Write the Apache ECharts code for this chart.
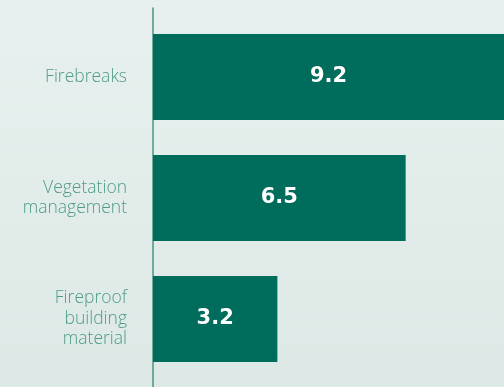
<!DOCTYPE html>
<html>
<head>
<meta charset="utf-8">
<script src="https://cdn.jsdelivr.net/npm/echarts@6/dist/echarts.min.js"></script>
<style>
  html, body { margin: 0; padding: 0; }
  #chart { width: 504px; height: 387px; }
</style>
</head>
<body>
<div id="chart"></div>
<script>
// Fire-prevention measures and their scores
const categories = ['Firebreaks', 'Vegetation\nmanagement', 'Fireproof\nbuilding\nmaterial'];
const values = [9.2, 6.5, 3.2];

const barColor = '#006c5b';
const labelColor = '#4f9b8a';

const chart = echarts.init(document.getElementById('chart'), null, { renderer: 'canvas' });

chart.setOption({
  animation: false,
  backgroundColor: {
    type: 'linear', x: 0, y: 0, x2: 0, y2: 1,
    colorStops: [
      { offset: 0, color: '#e7f0ee' },
      { offset: 1, color: '#dde9e6' }
    ]
  },
  grid: [
    // plotting area for the bars; the longest bar runs off the right edge
    { left: 153, top: 16.5, height: 363, right: 0, containLabel: false },
    // full-height strip used only to draw the vertical axis line
    { left: 153, top: 8, bottom: 0, right: 0, containLabel: false }
  ],
  xAxis: [
    { gridIndex: 0, type: 'value', min: 0, max: 9.03, show: false },
    { gridIndex: 1, type: 'value', min: 0, max: 1, show: false }
  ],
  yAxis: [
    {
      gridIndex: 0,
      type: 'category',
      inverse: true,
      data: categories,
      axisLine: { show: false },
      axisTick: { show: false },
      splitLine: { show: false },
      axisLabel: {
        margin: 26,
        color: labelColor,
        fontFamily: 'Open Sans',
        fontWeight: 300,
        fontSize: 17.5,
        lineHeight: 20.5,
        align: 'right'
      }
    },
    {
      gridIndex: 1,
      type: 'value',
      min: 0,
      max: 1,
      axisLine: { show: true, lineStyle: { color: '#4a9484', width: 1.5 } },
      axisTick: { show: false },
      axisLabel: { show: false },
      splitLine: { show: false }
    }
  ],
  series: [
    {
      type: 'bar',
      xAxisIndex: 0,
      yAxisIndex: 0,
      data: values,
      barWidth: 86,
      itemStyle: { color: barColor },
      label: {
        show: true,
        position: 'inside',
        color: '#ffffff',
        fontFamily: 'DejaVu Sans',
        fontWeight: 'bold',
        fontSize: 21,
        formatter: p => p.value.toFixed(1)
      }
    }
  ]
});
</script>
</body>
</html>
